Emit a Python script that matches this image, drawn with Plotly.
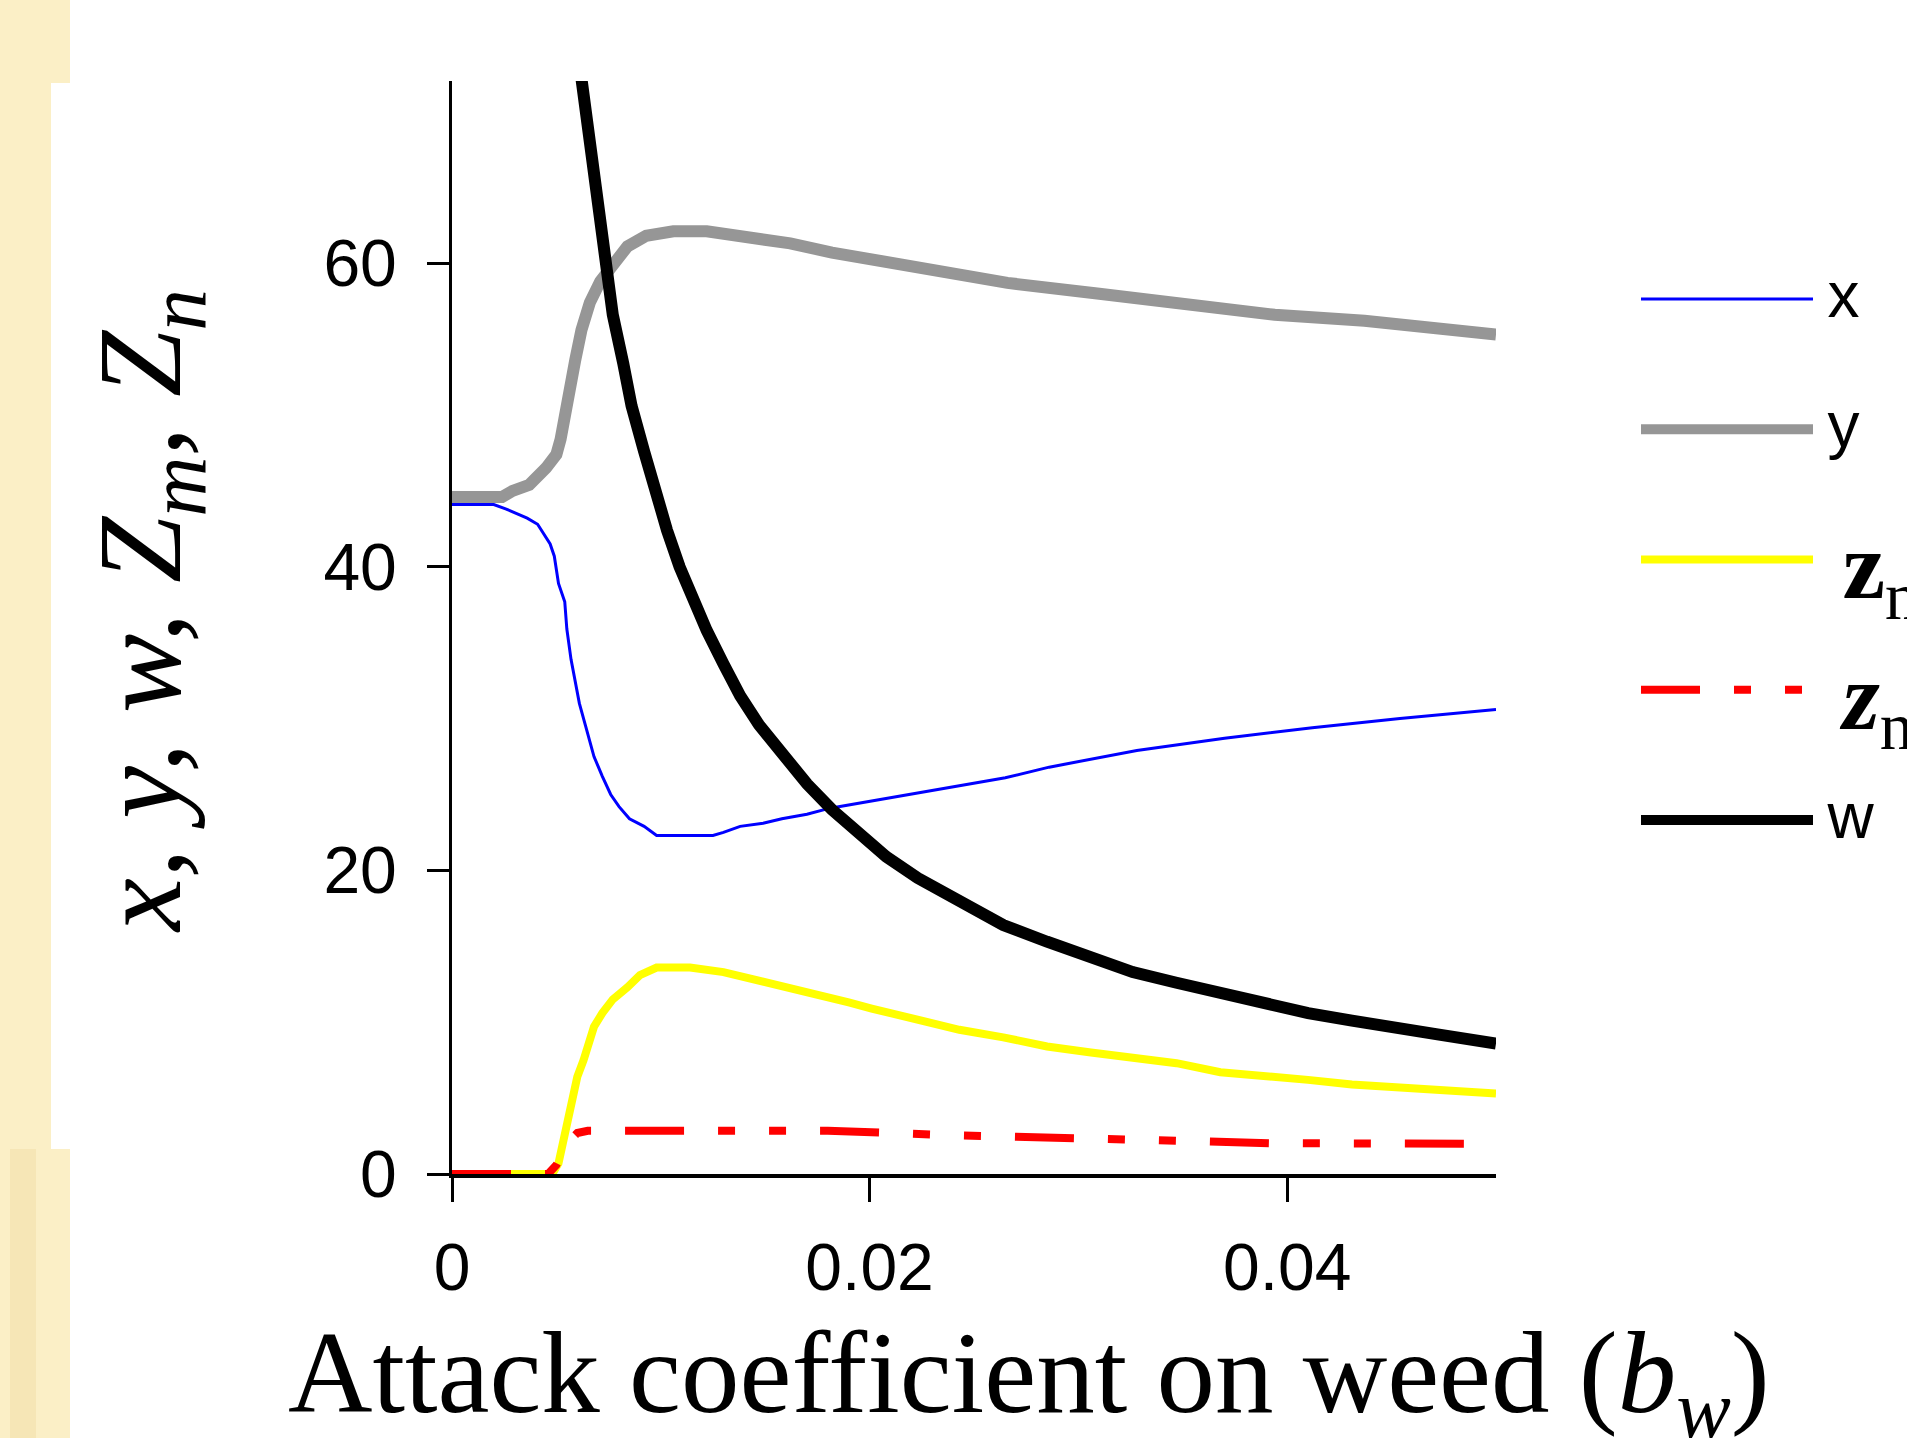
import plotly.graph_objects as go

# ---------------- data ----------------
bw_x = [0, 0.0020, 0.0026, 0.0036, 0.0041, 0.0047, 0.0049, 0.0051, 0.0054, 0.0055, 0.0057,
        0.0059, 0.0061, 0.0064, 0.0068, 0.0072, 0.0076, 0.0080, 0.0085, 0.0092, 0.0098,
        0.0125, 0.0130, 0.0138, 0.0149, 0.0158, 0.0170, 0.0181, 0.0223, 0.0265, 0.0286,
        0.0328, 0.0370, 0.0412, 0.0454, 0.0500]
x_vals = [44.1, 44.1, 43.8, 43.2, 42.8, 41.5, 40.7, 38.9, 37.7, 35.9, 33.9,
          32.4, 31.0, 29.5, 27.5, 26.2, 25.0, 24.2, 23.4, 22.9, 22.3,
          22.3, 22.5, 22.9, 23.1, 23.4, 23.7, 24.1, 25.1, 26.1, 26.8,
          27.9, 28.7, 29.4, 30.0, 30.6]

bw_y = [0, 0.0024, 0.0029, 0.0037, 0.0045, 0.0050, 0.0052, 0.0054, 0.0056, 0.0059, 0.0062,
        0.0066, 0.0071, 0.0077, 0.0084, 0.0093, 0.0106, 0.0122, 0.0132, 0.0146, 0.0162,
        0.0182, 0.0223, 0.0266, 0.0309, 0.0352, 0.0394, 0.0437, 0.0475, 0.0500]
y_vals = [44.6, 44.6, 45.0, 45.4, 46.5, 47.4, 48.4, 50.2, 51.6, 53.6, 55.6,
          57.4, 58.8, 60.0, 61.1, 61.8, 62.1, 62.1, 61.9, 61.6, 61.3,
          60.7, 59.7, 58.7, 58.0, 57.2, 56.6, 56.2, 55.7, 55.3]

bw_zm = [0, 0.0048, 0.0051, 0.0053, 0.0056, 0.0058, 0.0060, 0.0063, 0.0066, 0.0068, 0.0072,
         0.0077, 0.0084, 0.0090, 0.0098, 0.0114, 0.0130, 0.0146, 0.0162, 0.0178, 0.0190,
         0.0201, 0.0223, 0.0243, 0.0264, 0.0285, 0.0306, 0.0326, 0.0347, 0.0368, 0.0389,
         0.0410, 0.0431, 0.0451, 0.0472, 0.0500]
zm_vals = [0, 0, 0.7, 2.0, 3.4, 5.1, 6.4, 7.5, 8.6, 9.7, 10.6,
           11.5, 12.3, 13.1, 13.6, 13.6, 13.3, 12.8, 12.2, 11.7, 11.3,
           10.9, 10.1, 9.5, 9.0, 8.4, 8.0, 7.6, 7.3, 6.7, 6.5,
           6.2, 5.9, 5.7, 5.6, 5.3]

bw_zn = [0, 0.0046, 0.0050, 0.0055, 0.0060, 0.0065, 0.0180, 0.0236, 0.0322, 0.0392, 0.0485, 0.0500]
zn_vals = [0, 0, 0.6, 2.0, 2.7, 2.85, 2.85, 2.57, 2.28, 2.03, 2.0, 1.75]

bw_w = [0.0058, 0.0062, 0.0070, 0.0073, 0.0077, 0.0082, 0.0086, 0.0092, 0.0097, 0.0103, 0.0109,
        0.0115, 0.0122, 0.0130, 0.0138, 0.0147, 0.0158, 0.0170, 0.0182, 0.0195, 0.0208,
        0.0223, 0.0243, 0.0264, 0.0285, 0.0306, 0.0326, 0.0347, 0.0368, 0.0389, 0.0410,
        0.0431, 0.0451, 0.0472, 0.0500]
w_vals = [76.3, 72.0, 64.2, 59.6, 56.6, 53.4, 50.6, 47.6, 45.0, 42.4, 40.0,
          37.9, 35.8, 33.6, 31.5, 29.6, 27.6, 25.7, 24.0, 22.4, 20.9,
          19.5, 17.9, 16.4, 15.3, 14.2, 13.3, 12.6, 11.9, 11.2, 10.6,
          10.1, 9.6, 9.2, 8.6]

x_ticks = [0, 0.02, 0.04]
x_tick_labels = ["0", "0.02", "0.04"]
y_ticks = [0, 20, 40, 60]
y_tick_labels = ["0", "20", "40", "60"]

# ---------------- layout geometry ----------------
W, H = 1907, 1438
L, R, T, B = 452, 411, 81, 264
PW, PH = W - L - R, H - T - B


def pxx(p):
    """pixel x -> paper fraction"""
    return (p - L) / PW


def pyy(p):
    """pixel y -> paper fraction"""
    return (H - B - p) / PH


SERIF = "Liberation Serif"
SANS = "Liberation Sans"
GAP = '<span style="font-size:34px"> </span>'
GAPZ = '<span style="font-size:88px"> </span>'


def plain(t):
    return GAP + '<span style="baseline-shift:7px">' + t + '</span>'


def zlabel(sub, italic):
    z = "<b><i>z</i></b>" if italic else "<b>z</b>"
    return (GAPZ + '<span style="font-family:Liberation Serif;font-size:96px;baseline-shift:-14px">'
            + z + "<sub>" + sub + "</sub></span>")


fig = go.Figure()
fig.add_trace(go.Scatter(x=bw_x, y=x_vals, mode="lines", name=plain("x"), legendgroup="g1",
                         line=dict(color="#0000FF", width=3)))
fig.add_trace(go.Scatter(x=bw_y, y=y_vals, mode="lines", name=plain("y"), legendgroup="g2",
                         line=dict(color="#969696", width=12)))
fig.add_trace(go.Scatter(x=bw_zm, y=zm_vals, mode="lines", legendgroup="g3",
                         name=zlabel("m", False),
                         line=dict(color="#FFFF00", width=8)))
fig.add_trace(go.Scatter(x=bw_zn, y=zn_vals, mode="lines", legendgroup="g4",
                         name=zlabel("n", True),
                         line=dict(color="#FF0000", width=8, dash="59px,34px,17px,34px,17px,34px")))
fig.add_trace(go.Scatter(x=bw_w, y=w_vals, mode="lines", name=plain("w"), legendgroup="g5",
                         line=dict(color="#000000", width=12)))

cream = "#FBEFC6"
band = "#F6E6B6"
shapes = [
    dict(type="rect", xref="paper", yref="paper", x0=pxx(-10), x1=pxx(70), y0=pyy(83), y1=pyy(-10),
         fillcolor=cream, line=dict(width=0), layer="below"),
    dict(type="rect", xref="paper", yref="paper", x0=pxx(-10), x1=pxx(51), y0=pyy(1149), y1=pyy(83),
         fillcolor=cream, line=dict(width=0), layer="below"),
    dict(type="rect", xref="paper", yref="paper", x0=pxx(-10), x1=pxx(70), y0=pyy(1450), y1=pyy(1149),
         fillcolor=cream, line=dict(width=0), layer="below"),
    dict(type="rect", xref="paper", yref="paper", x0=pxx(10), x1=pxx(36), y0=pyy(1450), y1=pyy(1149),
         fillcolor=band, line=dict(width=0), layer="below"),
]

fig.update_layout(
    width=W, height=H,
    margin=dict(l=L, r=R, t=T, b=B, autoexpand=False),
    paper_bgcolor="white", plot_bgcolor="white",
    shapes=shapes,
    showlegend=True,
    legend=dict(x=pxx(1636), y=pyy(251), xanchor="left", yanchor="top",
                font=dict(family=SANS, size=64, color="black"),
                itemwidth=172, tracegroupgap=44, traceorder="grouped",
                bgcolor="rgba(0,0,0,0)", borderwidth=0),
    xaxis=dict(range=[0, 0.05], tickvals=x_ticks, ticktext=x_tick_labels,
               showline=True, linecolor="black", linewidth=4, mirror=False,
               ticks="outside", ticklen=24, tickwidth=3, tickcolor="black",
               showgrid=False, zeroline=False, ticklabelstandoff=9,
               tickfont=dict(family=SANS, size=66, color="black")),
    yaxis=dict(range=[0, 72], tickvals=y_ticks, ticktext=y_tick_labels,
               showline=True, linecolor="black", linewidth=3,
               ticks="outside", ticklen=22, tickwidth=3, tickcolor="black",
               showgrid=False, zeroline=False, ticklabelstandoff=17,
               tickfont=dict(family=SANS, size=66, color="black")),
    annotations=[
        dict(text="<i>x, y, w, Z<sub>m</sub>, Z<sub>n</sub></i>", textangle=-90,
             xref="paper", yref="paper", x=pxx(148), y=pyy(611), xanchor="center", yanchor="middle",
             showarrow=False, font=dict(family=SERIF, size=119, color="black")),
        dict(text="Attack coefficient on weed (<i>b</i><sub><i>w</i></sub>)",
             xref="paper", yref="paper", x=pxx(286), y=pyy(1381), xanchor="left", yanchor="middle",
             showarrow=False, font=dict(family=SERIF, size=117, color="black")),
    ],
)

fig.write_html("out.html", config={"displayModeBar": False},
               post_script="document.body.style.margin='0px';")
